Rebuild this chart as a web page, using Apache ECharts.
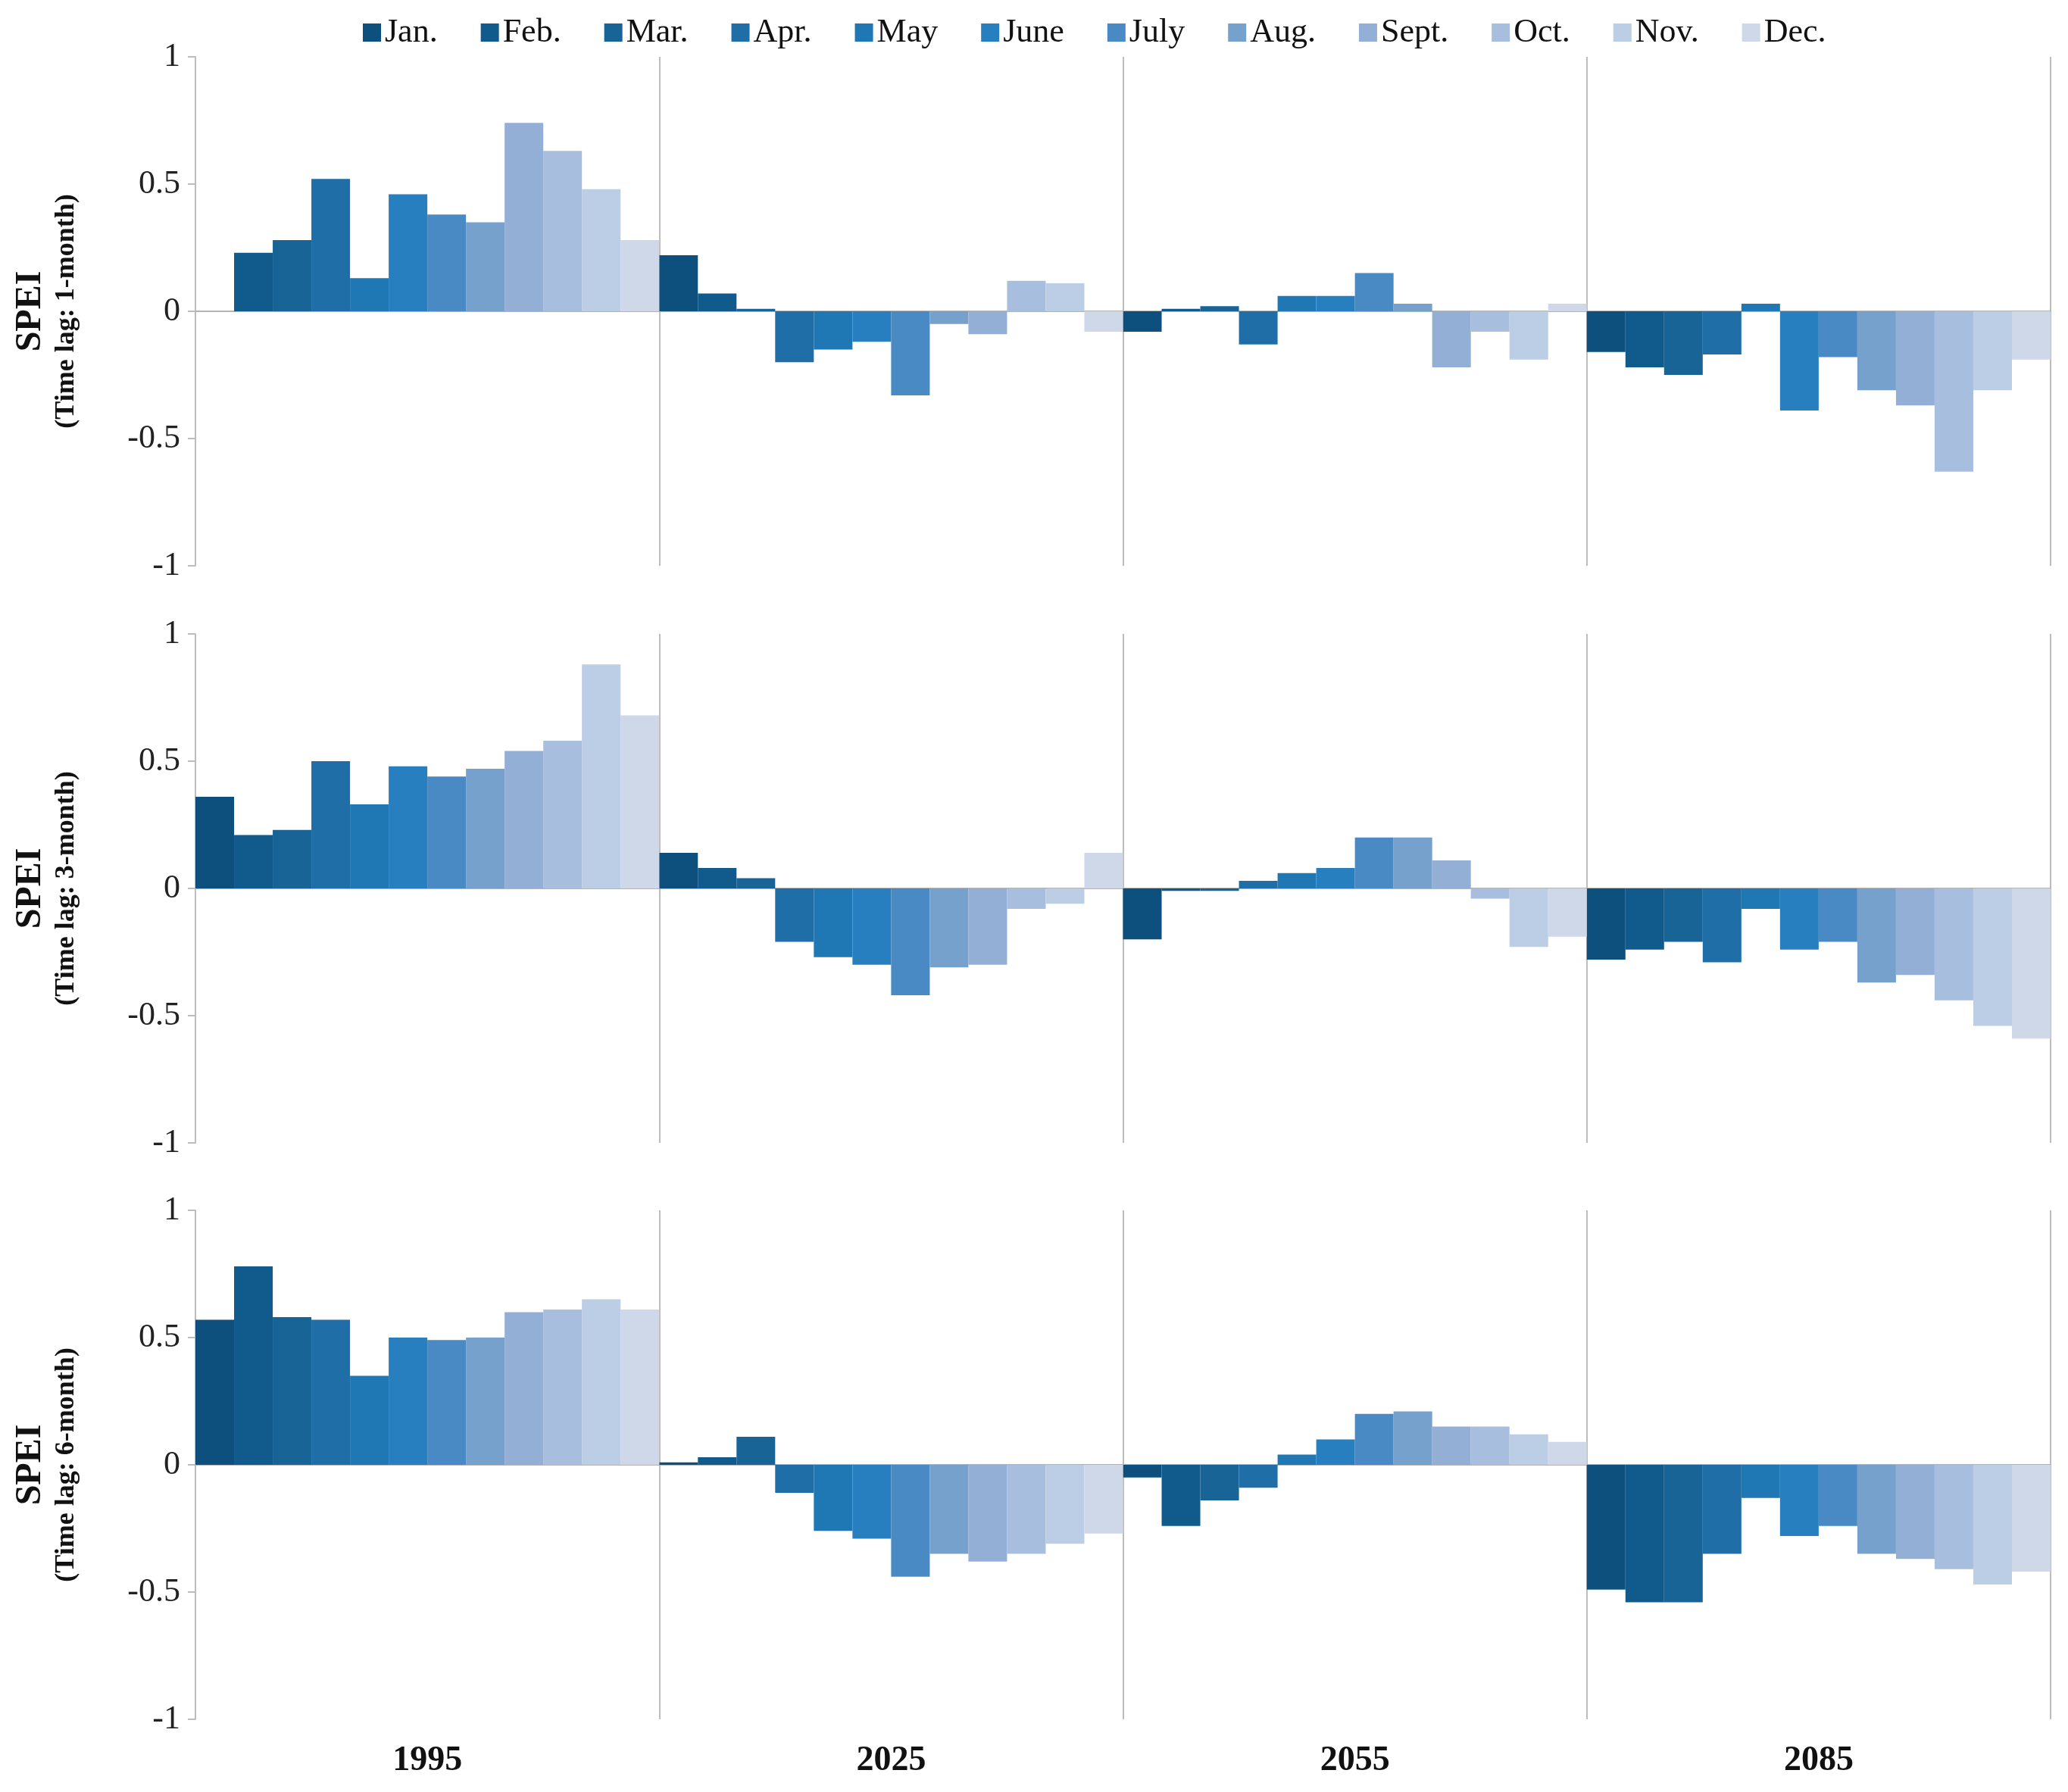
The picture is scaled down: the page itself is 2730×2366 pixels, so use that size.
<!DOCTYPE html>
<html>
<head>
    <meta charset="utf-8">
    <title>SPEI by month</title>
    <script src="https://cdn.jsdelivr.net/npm/echarts@6.0.0/dist/echarts.min.js"></script>
    <style>
        html, body { margin: 0; padding: 0; background: #fff; }
        #main { width: 2730px; height: 2366px; }
    </style>
</head>
<body>
    <div id="main"></div>

    <script>
        const years = ['1995', '2025', '2055', '2085'];
        const months = ['Jan.', 'Feb.', 'Mar.', 'Apr.', 'May', 'June', 'July', 'Aug.', 'Sept.', 'Oct.', 'Nov.', 'Dec.'];
        const monthColors = ['#0d507e', '#105b8c', '#196496', '#1f6ea7', '#1f78b4', '#277fbf',
                             '#4a8ac4', '#77a1cd', '#93afd5', '#a8bedf', '#bccde6', '#ced8e8'];
        const yTicks = [-1, -0.5, 0, 0.5, 1];
        const lagNames = ['(Time lag: 1-month)', '(Time lag: 3-month)', '(Time lag: 6-month)'];

        // SPEI values per year, Jan..Dec
        const lag1_1995 = [null, 0.23, 0.28, 0.52, 0.13, 0.46, 0.38, 0.35, 0.74, 0.63, 0.48, 0.28];
        const lag1_2025 = [0.22, 0.07, 0.01, -0.20, -0.15, -0.12, -0.33, -0.05, -0.09, 0.12, 0.11, -0.08];
        const lag1_2055 = [-0.08, 0.01, 0.02, -0.13, 0.06, 0.06, 0.15, 0.03, -0.22, -0.08, -0.19, 0.03];
        const lag1_2085 = [-0.16, -0.22, -0.25, -0.17, 0.03, -0.39, -0.18, -0.31, -0.37, -0.63, -0.31, -0.19];

        const lag3_1995 = [0.36, 0.21, 0.23, 0.50, 0.33, 0.48, 0.44, 0.47, 0.54, 0.58, 0.88, 0.68];
        const lag3_2025 = [0.14, 0.08, 0.04, -0.21, -0.27, -0.30, -0.42, -0.31, -0.30, -0.08, -0.06, 0.14];
        const lag3_2055 = [-0.20, -0.01, -0.01, 0.03, 0.06, 0.08, 0.20, 0.20, 0.11, -0.04, -0.23, -0.19];
        const lag3_2085 = [-0.28, -0.24, -0.21, -0.29, -0.08, -0.24, -0.21, -0.37, -0.34, -0.44, -0.54, -0.59];

        const lag6_1995 = [0.57, 0.78, 0.58, 0.57, 0.35, 0.50, 0.49, 0.50, 0.60, 0.61, 0.65, 0.61];
        const lag6_2025 = [0.01, 0.03, 0.11, -0.11, -0.26, -0.29, -0.44, -0.35, -0.38, -0.35, -0.31, -0.27];
        const lag6_2055 = [-0.05, -0.24, -0.14, -0.09, 0.04, 0.10, 0.20, 0.21, 0.15, 0.15, 0.12, 0.09];
        const lag6_2085 = [-0.49, -0.54, -0.54, -0.35, -0.13, -0.28, -0.24, -0.35, -0.37, -0.41, -0.47, -0.42];

        const panels = [
            [lag1_1995, lag1_2025, lag1_2055, lag1_2085],
            [lag3_1995, lag3_2025, lag3_2055, lag3_2085],
            [lag6_1995, lag6_2025, lag6_2055, lag6_2085]
        ];

        var chartDom = document.getElementById('main');
        var myChart = echarts.init(chartDom);

        const serif = 'Liberation Serif, Times New Roman, serif';
        const gridTops = [75, 837, 1598];
        const gridH = 672;

        const grid = gridTops.map(t => ({ left: 258, right: 23, top: t, height: gridH }));

        // one axis per panel for the zero line + dividers, plus one for the year labels
        const xAxis = gridTops.map((t, i) => ({
            gridIndex: i,
            type: 'category',
            data: years,
            axisLine: { onZero: true, lineStyle: { color: '#b4b4b4', width: 2 } },
            axisTick: { show: false },
            axisLabel: { show: false },
            splitLine: { show: true, lineStyle: { color: '#bdbdbd', width: 2 } }
        }));
        xAxis.push({
            gridIndex: 2,
            type: 'category',
            data: years,
            position: 'bottom',
            axisLine: { show: false, onZero: false },
            axisTick: { show: false },
            axisLabel: {
                margin: 32,
                fontFamily: serif,
                fontWeight: 'bold',
                fontSize: 46,
                color: '#111'
            }
        });

        const yAxis = gridTops.map((t, i) => ({
            gridIndex: i,
            type: 'value',
            min: yTicks[0],
            max: yTicks[yTicks.length - 1],
            interval: 0.5,
            name: '{a|SPEI}\n{b|' + lagNames[i] + '}',
            nameLocation: 'middle',
            nameRotate: 90,
            nameGap: 150,
            nameTextStyle: {
                rich: {
                    a: { fontFamily: serif, fontWeight: 'bold', fontSize: 48, color: '#111', lineHeight: 54 },
                    b: { fontFamily: serif, fontWeight: 'bold', fontSize: 36, color: '#111', lineHeight: 40 }
                }
            },
            axisLine: { show: true, lineStyle: { color: '#bdbdbd', width: 2 } },
            axisTick: { show: true, length: 10, lineStyle: { color: '#bdbdbd', width: 2 } },
            splitLine: { show: false },
            axisLabel: {
                margin: 20,
                fontFamily: serif,
                fontSize: 44,
                color: '#222'
            }
        }));

        const series = [];
        panels.forEach((yearArrays, p) => {
            months.forEach((m, k) => {
                series.push({
                    name: m,
                    type: 'bar',
                    xAxisIndex: p,
                    yAxisIndex: p,
                    barGap: '0%',
                    barCategoryGap: '0%',
                    itemStyle: { color: monthColors[k] },
                    data: yearArrays.map(arr => arr[k])
                });
            });
        });

        const option = {
            animation: false,
            color: monthColors,
            legend: {
                data: months,
                top: 16,
                left: 474,
                itemWidth: 24,
                itemHeight: 24,
                itemGap: 57,
                icon: 'rect',
                textStyle: { fontFamily: serif, fontSize: 44, color: '#111' }
            },
            grid: grid,
            xAxis: xAxis,
            yAxis: yAxis,
            series: series
        };

        myChart.setOption(option);
        window.addEventListener('resize', function() {
            myChart.resize();
        });
    </script>
</body>
</html>
